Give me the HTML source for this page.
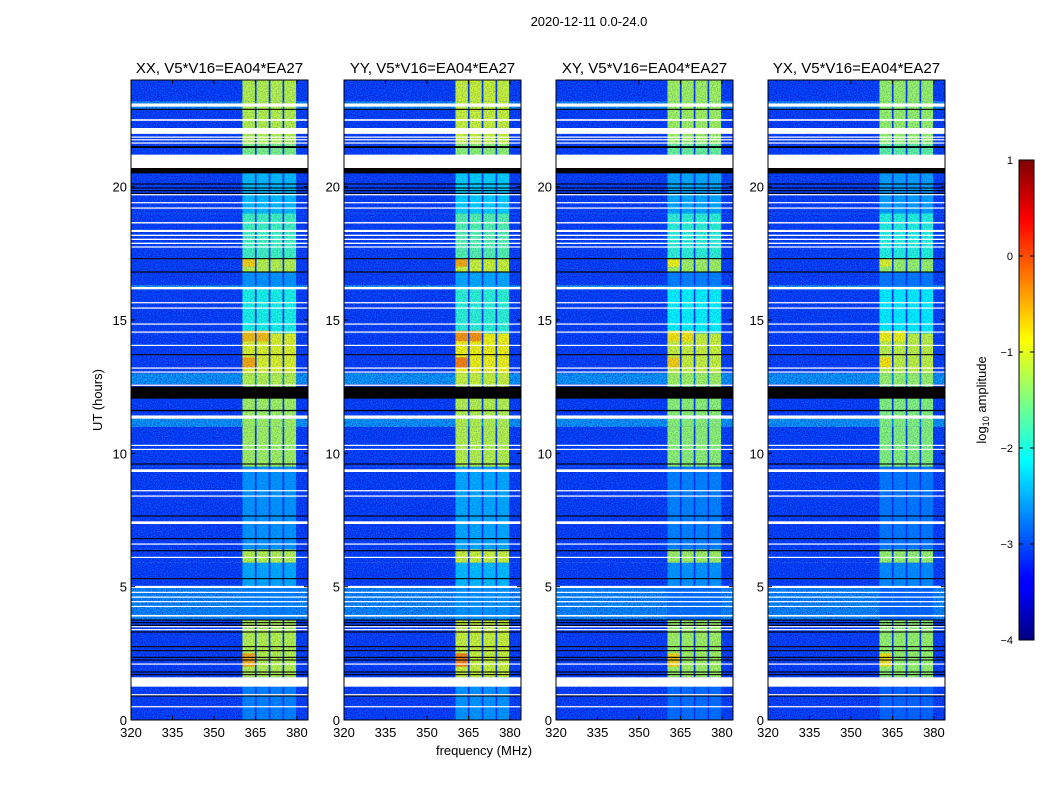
<!DOCTYPE html>
<html><head><meta charset="utf-8"><style>
body{margin:0;background:#fff;}
svg{display:block;font-family:"Liberation Sans",sans-serif;}
</style></head><body>
<svg id="fig" width="1050" height="800" viewBox="0 0 1050 800" xmlns="http://www.w3.org/2000/svg">
<defs>
<filter id="noise" x="0" y="0" width="100%" height="100%" color-interpolation-filters="sRGB">
<feTurbulence type="fractalNoise" baseFrequency="0.8" numOctaves="2" seed="3"/>
<feColorMatrix type="matrix" values="0 0 0 0 0  0 0 0 0 0.05  0 0 0 0 0.75  2.2 0 0 0 -0.75"/>
</filter>
<filter id="noise2" x="0" y="0" width="100%" height="100%" color-interpolation-filters="sRGB">
<feTurbulence type="fractalNoise" baseFrequency="0.85" numOctaves="2" seed="11"/>
<feColorMatrix type="matrix" values="0 0 0 0 0.1  0 0 0 0 0.6  0 0 0 0 1  2.2 0 0 0 -0.8"/>
</filter>
<linearGradient id="jet" x1="0" y1="1" x2="0" y2="0">
<stop offset="0" stop-color="#00007f"/><stop offset="0.11" stop-color="#0000ff"/><stop offset="0.125" stop-color="#0000ff"/>
<stop offset="0.375" stop-color="#00ffff"/><stop offset="0.625" stop-color="#ffff00"/><stop offset="0.875" stop-color="#ff0000"/><stop offset="1" stop-color="#7f0000"/>
</linearGradient>
</defs>
<text x="589" y="26" font-size="13" text-anchor="middle">2020-12-11 0.0-24.0</text>
<text x="484" y="755" font-size="13" text-anchor="middle">frequency (MHz)</text>
<text transform="translate(102,400) rotate(-90)" font-size="13" text-anchor="middle">UT (hours)</text>
<g id="panels"></g>
<g id="cbar"></g>
</svg>
<script>
// ---- data ----
const panelTitles = ["XX, V5*V16=EA04*EA27","YY, V5*V16=EA04*EA27","XY, V5*V16=EA04*EA27","YX, V5*V16=EA04*EA27"];
const panelOffset = [0, 0.1, -0.1, -0.15];
const xTicks = [320,335,350,365,380];
const yTicks = [0,5,10,15,20];
const cbarTicks = [1,0,-1,-2,-3,-4];
// time segments: start hour, end hour, background log amp, RFI log amp
const segStart = [0,1.6,3.75,4.95,5.9,6.4,9.5,11.0,11.3,12.6,13.0,14.5,16.2,16.3,16.8,17.3,19.0,20.6,21.6,22.9,23.2];
const segEnd   = [1.6,3.75,4.95,5.9,6.4,9.5,11.0,11.3,12.6,13.0,14.5,16.2,16.3,16.8,17.3,19.0,20.6,21.6,22.9,23.2,24];
const segBg    = [-3.1,-3.1,-2.6,-3.1,-3.1,-3.1,-3.1,-2.5,-3.1,-2.5,-3.1,-3.1,-2.5,-3.1,-3.1,-3.1,-3.1,-3.1,-3.1,-2.6,-3.1];
const segRfi   = [-2.7,-1.2,-2.7,-2.5,-1.2,-2.6,-1.3,-1.3,-1.3,-1.2,-1.0,-2.0,-2.5,-2.6,-1.2,-1.8,-2.4,-1.5,-1.2,-1.2,-1.2];
// RFI frequency columns (MHz)
const colLo = [360.3,365.4,370.4,375.4];
const colHi = [364.8,369.8,374.8,379.7];
// strong patches: start hour, end hour, column, level
const patchStart = [2.0,13.2,14.2,14.2,17.0];
const patchEnd   = [2.5,13.6,14.6,14.6,17.3];
const patchCol   = [0,0,0,1,0];
const patchLevel = [-0.5,-0.5,-0.6,-0.6,-0.7];
// flagged (white) rows
const whiteStart = [23.0,22.47,21.98,21.85,21.75,21.62,20.7,19.68,19.38,19.18,18.62,18.3,18.15,18.0,17.85,17.72,16.15,15.63,15.43,14.83,14.53,14.03,13.18,13.03,12.53,11.3,10.28,10.13,9.3,8.58,8.38,7.35,6.58,6.08,4.95,4.78,4.6,4.43,4.25,3.88,3.48,3.38,2.08,1.25,0.93,0.48];
const whiteEnd   = [23.12,22.53,22.2,21.88,21.78,21.66,21.2,19.72,19.42,19.22,18.67,18.38,18.2,18.05,17.9,17.76,16.24,15.67,15.47,14.87,14.57,14.07,13.22,13.07,12.58,11.42,10.32,10.17,9.4,8.62,8.42,7.45,6.62,6.12,5.03,4.81,4.63,4.46,4.28,3.94,3.52,3.41,2.12,1.6,0.97,0.52];
// zero-data (black) rows
const blackStart = [22.88,21.45,20.5,20.08,19.93,19.83,19.73,17.28,16.78,13.68,12.05,11.58,9.58,7.63,6.78,6.33,5.28,3.73,3.63,3.53,3.28,2.73,2.58,2.33,2.23,1.78,1.68,0.88];
const blackEnd   = [22.92,21.52,20.7,20.12,19.97,19.87,19.77,17.32,16.82,13.72,12.5,11.63,9.62,7.67,6.82,6.37,5.32,3.77,3.67,3.57,3.32,2.77,2.62,2.37,2.27,1.82,1.72,0.92];

// ---- layout ----
const panelX0 = [131,344,556,768];
const PW = 177, PY0 = 80, PY1 = 720, FMIN = 320, FMAX = 384, HMAX = 24;
const NS = "http://www.w3.org/2000/svg";
function jet(v){
  const t = Math.max(0, Math.min(1, (v + 4) / 5));
  const c = x => Math.round(255 * Math.max(0, Math.min(1, x)));
  return `rgb(${c(Math.min(4*t-1.5,-4*t+4.5))},${c(Math.min(4*t-0.5,-4*t+3.5))},${c(Math.min(4*t+0.5,-4*t+2.5))})`;
}
function mk(tag, attrs, parent){
  const e = document.createElementNS(NS, tag);
  for (const k in attrs) e.setAttribute(k, attrs[k]);
  parent.appendChild(e); return e;
}
const panels = document.getElementById('panels');
panelTitles.forEach((title, p) => {
  const x0 = panelX0[p];
  const xs = f => x0 + (f - FMIN) / (FMAX - FMIN) * PW;
  const ys = h => PY1 - h / HMAX * (PY1 - PY0);
  const off = panelOffset[p];
  const g = mk('g', {}, panels);
  
  
  const hm = mk('g', {}, g);
  
  
  segStart.forEach((s, i) => {
    const r = mk('rect', {x: x0, y: ys(segEnd[i]), width: PW, height: ys(s) - ys(segEnd[i]), fill: jet(segBg[i])}, hm);
    
    
  });
  const nz = mk('rect', {x: x0, y: PY0, width: PW, height: PY1 - PY0, filter: 'url(#noise)', opacity: 0.8}, hm);
  
  
  const nz2 = mk('rect', {x: x0, y: PY0, width: PW, height: PY1 - PY0, filter: 'url(#noise2)', opacity: 0.5}, hm);
  
  
  segStart.forEach((s, i) => {
    colLo.forEach((lo, c) => {
      const rc = mk('rect', {x: xs(lo), y: ys(segEnd[i]), width: xs(colHi[c]) - xs(lo), height: ys(s) - ys(segEnd[i]), fill: jet(segRfi[i] + off)}, hm);
      
      
    });
  });
  patchStart.forEach((s, i) => {
    const c = patchCol[i];
    const r = mk('rect', {x: xs(colLo[c]), y: ys(patchEnd[i]), width: xs(colHi[c]) - xs(colLo[c]), height: ys(s) - ys(patchEnd[i]), fill: jet(patchLevel[i] + off * 2)}, hm);
    
    
  });
  const nz3 = mk('rect', {x: xs(colLo[0]), y: PY0, width: xs(colHi[3]) - xs(colLo[0]), height: PY1 - PY0, filter: 'url(#noise)', opacity: 0.3}, hm);
  
  
  blackStart.forEach((s, i) => {
    const r = mk('rect', {x: x0, y: ys(blackEnd[i]), width: PW, height: Math.max(1, ys(s) - ys(blackEnd[i])), fill: '#000'}, hm);
    
    
  });
  whiteStart.forEach((s, i) => {
    const r = mk('rect', {x: x0, y: ys(whiteEnd[i]), width: PW, height: Math.max(1.2, ys(s) - ys(whiteEnd[i])), fill: '#fff'}, hm);
    
    
  });
  const fr = mk('rect', {x: x0, y: PY0, width: PW, height: PY1 - PY0, fill: 'none', stroke: '#000', 'stroke-width': 1}, g);
  
  
  const t = mk('text', {x: x0 + PW / 2, y: 73, 'font-size': 15, 'text-anchor': 'middle'}, g);
  t.textContent = title;
  
  
  xTicks.forEach(v => {
    const x = xs(v);
    mk('line', {x1: x, x2: x, y1: PY1, y2: PY1 - 4, stroke: '#000'}, g);
    mk('line', {x1: x, x2: x, y1: PY0, y2: PY0 + 4, stroke: '#000'}, g);
    const l = mk('text', {x: x, y: 737, 'font-size': 13, 'text-anchor': 'middle'}, g);
    l.textContent = v;
    
    
  });
  yTicks.forEach(v => {
    const y = ys(v);
    mk('line', {x1: x0, x2: x0 + 4, y1: y, y2: y, stroke: '#000'}, g);
    mk('line', {x1: x0 + PW, x2: x0 + PW - 4, y1: y, y2: y, stroke: '#000'}, g);
    const l = mk('text', {x: x0 - 4, y: y + 5, 'font-size': 13, 'text-anchor': 'end'}, g);
    l.textContent = v;
    
    
  });
});
// colorbar
const cb = document.getElementById('cbar');


const CBX = 1019, CBW = 15, CBY0 = 160, CBY1 = 640;
mk('rect', {x: CBX, y: CBY0, width: CBW, height: CBY1 - CBY0, fill: 'url(#jet)', stroke: '#000', 'stroke-width': 1}, cb);
cbarTicks.forEach(v => {
  const y = CBY1 - (v + 4) / 5 * (CBY1 - CBY0);
  mk('line', {x1: CBX, x2: CBX + 4, y1: y, y2: y, stroke: '#000'}, cb);
  mk('line', {x1: CBX + CBW, x2: CBX + CBW - 4, y1: y, y2: y, stroke: '#000'}, cb);
  const l = mk('text', {x: 1013, y: y + 4, 'font-size': 11, 'text-anchor': 'end'}, cb);
  l.textContent = v < 0 ? '\u2212' + Math.abs(v) : v;
  
  
});
const cl = mk('text', {transform: 'translate(986,400) rotate(-90)', 'font-size': 13, 'text-anchor': 'middle'}, cb);
cl.innerHTML = 'log<tspan font-size="9" dy="3">10</tspan><tspan dy="-3"> amplitude</tspan>';


</script>
</body></html>
